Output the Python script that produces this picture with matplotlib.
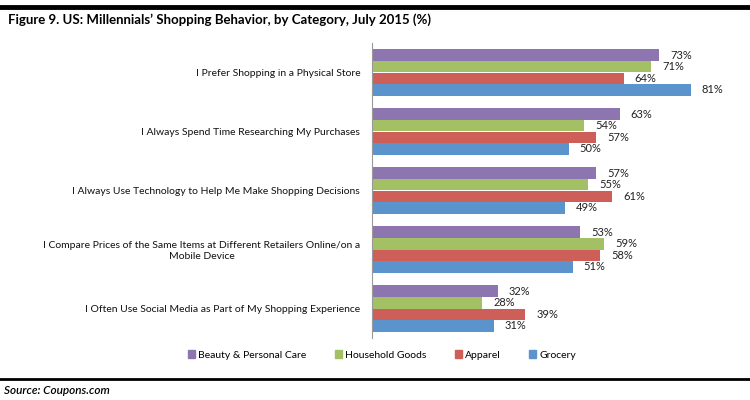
import numpy as np
import matplotlib.pyplot as plt
from matplotlib.patches import Patch

plt.rcParams['font.family'] = ['Lato', 'DejaVu Sans']

behaviors = [
    "I Prefer Shopping in a Physical Store",
    "I Always Spend Time Researching My Purchases",
    "I Always Use Technology to Help Me Make Shopping Decisions",
    "I Compare Prices of the Same Items at Different Retailers Online/on a\nMobile Device",
    "I Often Use Social Media as Part of My Shopping Experience",
]
series_names = ["Beauty & Personal Care", "Household Goods", "Apparel", "Grocery"]
beauty = [73, 63, 57, 53, 32]
household = [71, 54, 55, 59, 28]
apparel = [64, 57, 61, 58, 39]
grocery = [81, 50, 49, 51, 31]
colors = ['#8D76B0', '#A3C164', '#CE5F58', '#5B93CD']

fig = plt.figure(figsize=(7.5, 4), dpi=100)
ax = fig.add_axes([372/750, 62/400, 354/750, 295/400])

y = np.arange(len(behaviors))
h = 0.196
for k, vals in enumerate([beauty, household, apparel, grocery]):
    pos = y - 1.5*h + k*h
    ax.barh(pos, vals, height=h, color=colors[k], label=series_names[k])
    for p, v in zip(pos, vals):
        ax.text(v + 2.8, p, f'{v}%', va='center', ha='left', fontsize=8, color='#222222')

ax.set_xlim(0, 90)
ax.set_ylim(len(behaviors) - 0.5, -0.5)
ax.set_yticks(y)
ax.set_yticklabels(behaviors, fontsize=7.5, color='#111111')
for lab in ax.get_yticklabels():
    lab.set_multialignment('center')
ax.tick_params(axis='y', length=0, pad=8.5)
ax.set_xticks([])
for s in ['top', 'right', 'bottom']:
    ax.spines[s].set_visible(False)
ax.spines['left'].set_color('#999999')

handles = [Patch(color=c) for c in colors]
fig.legend(handles, series_names, loc='center', bbox_to_anchor=(382/750, 1 - 355/400),
           ncol=4, frameon=False, fontsize=7.5, handlelength=0.7, handleheight=0.7,
           handletextpad=0.3, columnspacing=2.7)

# black rules and captions
fig.add_artist(plt.Line2D([0, 1], [1 - 7/400, 1 - 7/400], color='black', linewidth=3.5))
fig.add_artist(plt.Line2D([0, 1], [1 - 379/400, 1 - 379/400], color='black', linewidth=2))
fig.text(8/750, 1 - 20/400, "Figure 9. US: Millennials\u2019 Shopping Behavior, by Category, July 2015 (%)",
         fontsize=9.5, fontweight='bold', va='center', ha='left')
fig.text(4/750, 1 - 390/400, "Source: Coupons.com", fontsize=8.5, style='italic',
         fontweight='semibold', va='center', ha='left')

fig.savefig('out.png', dpi=100)
